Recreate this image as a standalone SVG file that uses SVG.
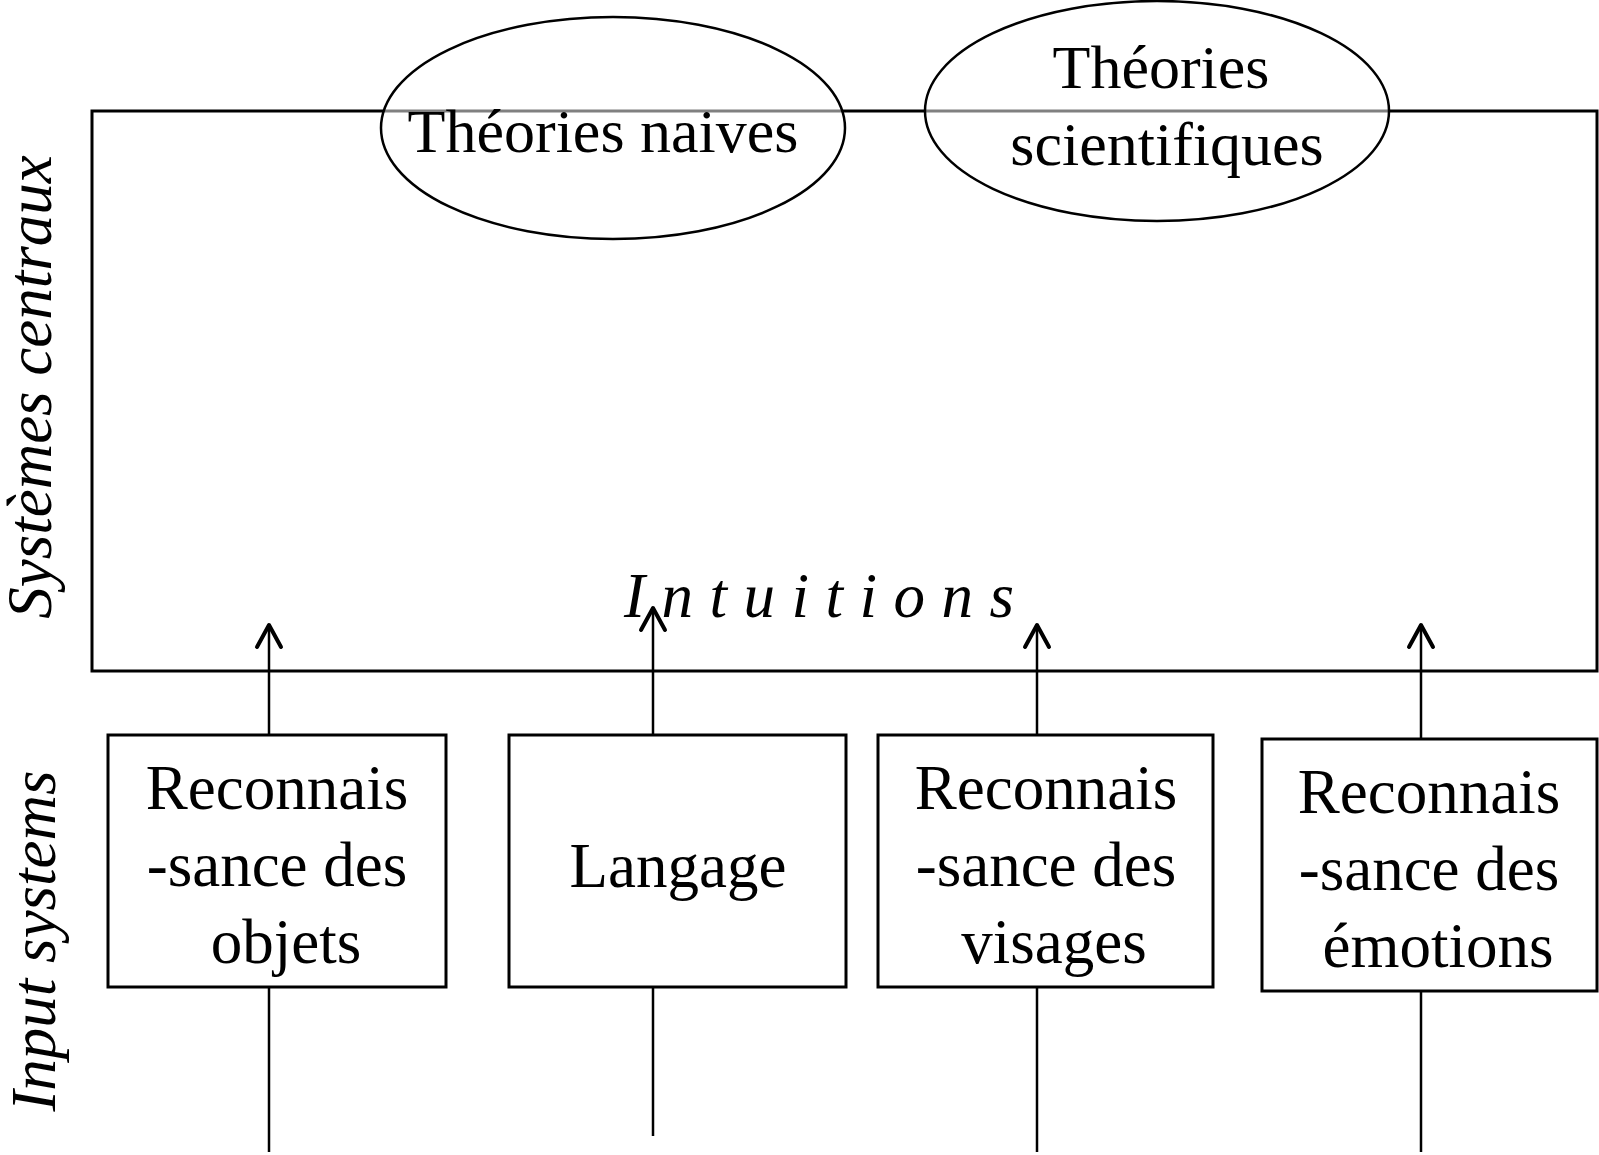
<svg xmlns="http://www.w3.org/2000/svg" width="1599" height="1155" viewBox="0 0 1599 1155">
<style>
.t{font-family:"Liberation Serif","Times New Roman",serif;font-size:63px;fill:#000;text-anchor:middle}
.it{font-style:italic}
.box{fill:#fff;stroke:#000;stroke-width:3}
.ell{fill:#fff;fill-opacity:0.5;stroke:#000;stroke-width:2.5}
.ln{stroke:#000;stroke-width:2.5;fill:none}
</style>
<defs>
<marker id="ah" markerUnits="userSpaceOnUse" viewBox="-28 -17 34 34" markerWidth="34" markerHeight="34" refX="0" refY="0" orient="auto">
<path d="M-22,-12 L0,0 L-22,12" fill="none" stroke="#000" stroke-width="4" stroke-linecap="round" stroke-linejoin="round"/>
</marker>
</defs>
<rect width="1599" height="1155" fill="#fff"/>
<g id="central">
<rect x="92" y="111" width="1505" height="560" fill="none" stroke="#000" stroke-width="3"/>
<text class="t it" x="624" y="617" style="text-anchor:start;letter-spacing:16.5px">Intuitions</text>
</g>
<g id="label-central"><text class="t it" transform="translate(51,387) rotate(-90)">Systèmes centraux</text></g>
<g id="label-input"><text class="t it" transform="translate(55,941) rotate(-90)">Input systems</text></g>
<g id="naives">
<ellipse class="ell" cx="613" cy="128" rx="232" ry="111"/>
<text class="t" x="603" y="152" style="font-size:62px">Théories naives</text>
</g>
<g id="scientifiques">
<ellipse class="ell" cx="1157" cy="111" rx="232" ry="110"/>
<text class="t" x="1161" y="88" style="font-size:62px">Théories</text>
<text class="t" x="1167" y="165" style="font-size:62px">scientifiques</text>
</g>
<g id="connectors">
<line class="ln" x1="269" y1="735" x2="269" y2="625" marker-end="url(#ah)"/>
<line class="ln" x1="653" y1="735" x2="653" y2="608" marker-end="url(#ah)"/>
<line class="ln" x1="1037" y1="735" x2="1037" y2="625" marker-end="url(#ah)"/>
<line class="ln" x1="1421" y1="739" x2="1421" y2="625" marker-end="url(#ah)"/>
<line class="ln" x1="269" y1="987" x2="269" y2="1152"/>
<line class="ln" x1="653" y1="987" x2="653" y2="1136"/>
<line class="ln" x1="1037" y1="987" x2="1037" y2="1152"/>
<line class="ln" x1="1421" y1="991" x2="1421" y2="1152"/>
</g>
<g id="objets">
<rect class="box" x="108" y="735" width="338" height="252"/>
<text class="t" x="277" y="809">Reconnais</text>
<text class="t" x="277" y="886">-sance des</text>
<text class="t" x="286" y="963">objets</text>
</g>
<g id="langage">
<rect class="box" x="509" y="735" width="337" height="252"/>
<text class="t" x="678" y="887">Langage</text>
</g>
<g id="visages">
<rect class="box" x="878" y="735" width="335" height="252"/>
<text class="t" x="1046" y="809">Reconnais</text>
<text class="t" x="1046" y="886">-sance des</text>
<text class="t" x="1054" y="963">visages</text>
</g>
<g id="emotions">
<rect class="box" x="1262" y="739" width="335" height="252"/>
<text class="t" x="1429" y="813">Reconnais</text>
<text class="t" x="1429" y="890">-sance des</text>
<text class="t" x="1438" y="967">émotions</text>
</g>
</svg>
